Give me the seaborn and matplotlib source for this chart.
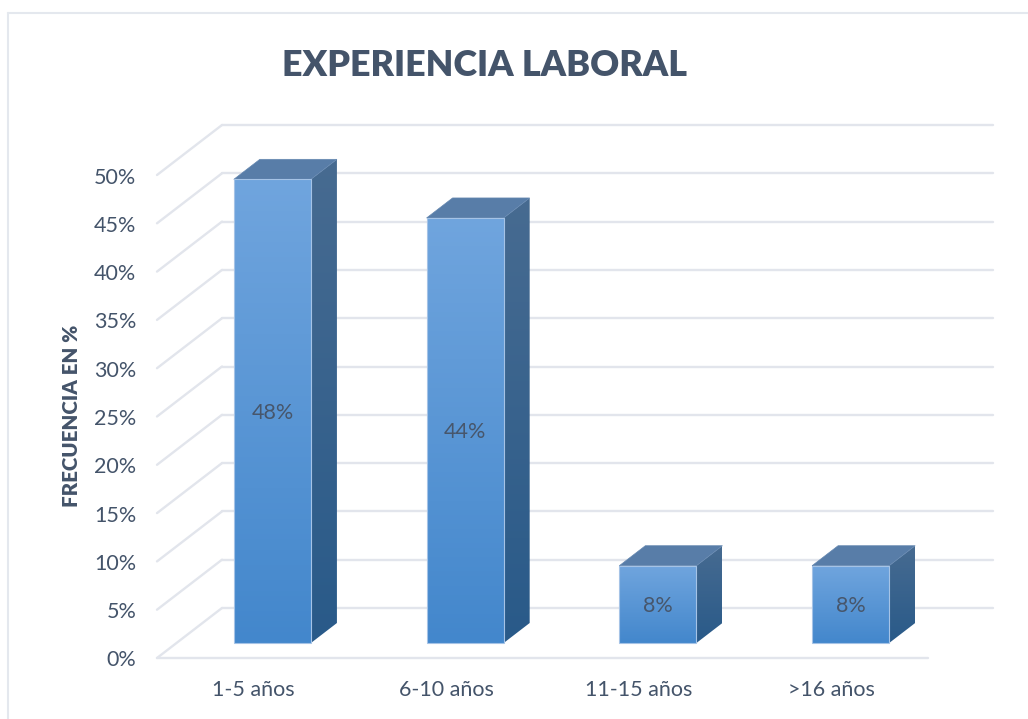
import numpy as np
import pandas as pd
import seaborn as sns
import matplotlib
matplotlib.use("Agg")
import matplotlib.pyplot as plt
from matplotlib.lines import Line2D
from matplotlib.patches import Polygon
from matplotlib.colors import LinearSegmentedColormap
from matplotlib.transforms import ScaledTranslation

# Data
categorias = ["1-5 años", "6-10 años", "11-15 años", ">16 años"]
valores = [48, 44, 8, 8]
ticks_y = [0, 5, 10, 15, 20, 25, 30, 35, 40, 45, 50]

TEXTO = "#44546a"
GRID = "#e2e5ec"

sns.set_theme(style="white")
plt.rcParams["font.family"] = ["Lato", "DejaVu Sans"]

W, H = 1028, 719
fig = plt.figure(figsize=(W / 100, H / 100), dpi=100, facecolor="white")

# front plane of the 3D box, in pixels
x0, x1, y0, y1 = 157, 928, 658, 175
ax = fig.add_axes([x0 / W, 1 - y0 / H, (x1 - x0) / W, (y0 - y1) / H])

df = pd.DataFrame({"categoria": categorias, "valor": valores})
sns.barplot(data=df, x="categoria", y="valor", width=0.4, ax=ax, zorder=3)

ax.set_xlim(-0.5, 3.5)
ax.set_ylim(0, 50)
ax.set_autoscale_on(False)

# pixels to data units
px_x = 4 / (x1 - x0)
px_y = 50 / (y0 - y1)

# back wall and floor
pared_x, pared_y = 65 * px_x, 50 * px_y
for t in ticks_y:
    ax.plot([-0.5, -0.5 + pared_x], [t, t + pared_y], color=GRID, lw=1.7, clip_on=False, zorder=1)
    ax.plot([-0.5 + pared_x, 3.5 + pared_x], [t + pared_y, t + pared_y], color=GRID, lw=1.7, clip_on=False, zorder=1)
ax.plot([-0.5, 3.5], [0, 0], color=GRID, lw=1.7, clip_on=False, zorder=1)


def gradiente(artist, arriba, abajo, extent, zorder):
    cmap = LinearSegmentedColormap.from_list("g", [arriba, abajo])
    im = ax.imshow(np.linspace(0, 1, 256).reshape(-1, 1), cmap=cmap, aspect="auto",
                   extent=extent, origin="upper", zorder=zorder)
    # images stop at the axes box otherwise, and the bars stick out of it
    im.set_clip_box(fig.bbox)
    im.set_clip_path(artist)


# bars: front face from seaborn, moved into the box, plus side and top faces
base_x, base_y = 19 * px_x, 15 * px_y
prof_x, prof_y = 26 * px_x, 20 * px_y

for barra, valor in zip(ax.patches, valores):
    izq = barra.get_x() + base_x
    ancho = barra.get_width()
    der = izq + ancho
    abajo = base_y
    arriba = base_y + valor
    barra.set_x(izq)
    barra.set_y(abajo)
    barra.set_clip_on(False)

    lado = Polygon([(der, abajo), (der + prof_x, abajo + prof_y), (der + prof_x, arriba + prof_y), (der, arriba)],
                   closed=True, facecolor="none", edgecolor="none", transform=ax.transData, clip_on=False, zorder=4)
    ax.add_patch(lado)
    gradiente(lado, "#476b91", "#295a89", (der, der + prof_x, abajo, arriba + prof_y), 4)

    tapa = Polygon([(izq, arriba), (izq + prof_x, arriba + prof_y), (der + prof_x, arriba + prof_y), (der, arriba)],
                   closed=True, facecolor="#587da8", edgecolor="#6487b0", lw=0.5, clip_on=False, zorder=5)
    ax.add_patch(tapa)

    barra.set_facecolor("none")
    barra.set_edgecolor("#a5c3e6")
    barra.set_linewidth(0.8)
    barra.set_zorder(6)
    gradiente(barra, "#70a5de", "#4387cc", (izq, der, abajo, arriba), 5)

    ax.text(izq + ancho / 2, (abajo + arriba) / 2 - 1.5 * px_y, f"{valor}%", ha="center", va="center",
            fontsize=15.5, color="#47566b", zorder=7)

# axes text
ax.set_yticks(ticks_y)
ax.set_yticklabels([f"{t}%" for t in ticks_y])
ax.set_xticks(range(len(categorias)))
ax.set_xticklabels(categorias)
ax.tick_params(axis="y", length=0, pad=15, labelsize=15.5, labelcolor=TEXTO)
ax.tick_params(axis="x", length=0, pad=15.5, labelsize=15.5, labelcolor=TEXTO)
for lab in ax.get_yticklabels():
    lab.set_transform(lab.get_transform() + ScaledTranslation(0, -0.5 / 100, fig.dpi_scale_trans))
ax.set_xlabel("")
ax.set_ylabel("")
sns.despine(ax=ax, left=True, bottom=True)
ax.patch.set_alpha(0)

fig.text(71 / W, 1 - 416 / H, "FRECUENCIA EN %", rotation=90, ha="center", va="center",
         fontsize=14.8, fontweight="heavy", color=TEXTO)
fig.text(484 / W, 1 - 66 / H, "EXPERIENCIA LABORAL", ha="center", va="center",
         fontsize=25.8, fontweight="heavy", color=TEXTO)

# outer frame, top and left only
fig.add_artist(Line2D([8 / W, 8 / W], [0, 1 - 13 / H], color="#e4e8ee", lw=1.5))
fig.add_artist(Line2D([8 / W, 1], [1 - 13 / H, 1 - 13 / H], color="#e4e8ee", lw=1.5))

fig.savefig("out.png", dpi=100)
